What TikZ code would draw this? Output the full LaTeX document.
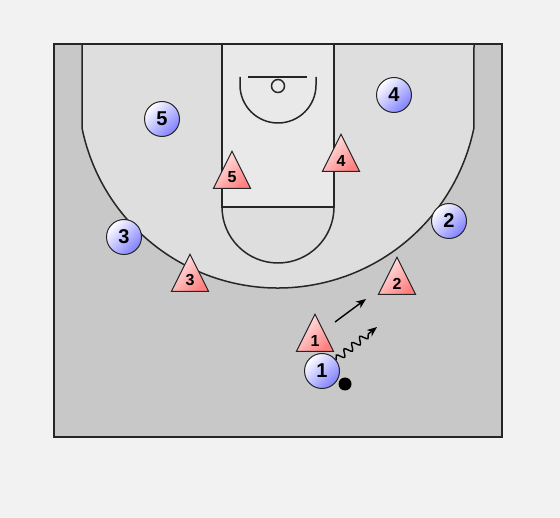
\documentclass[tikz,border=0pt]{standalone}
\usepackage{fontspec}
\setmainfont{Liberation Sans}
\usetikzlibrary{positioning, shapes.geometric, arrows.meta, decorations.pathmorphing}
\definecolor{floorgray}{RGB}{242,242,242}
\definecolor{courtgray}{RGB}{200,200,200}
\definecolor{arcgray}{RGB}{222,222,222}
\definecolor{lanegray}{RGB}{233,233,233}
\tikzset{
    offp/.style={circle, draw=black!85, line width=1pt, minimum size=35pt, inner sep=0pt, top color=white, bottom color=blue!50, shading angle=45, font=\fontsize{20}{20}\selectfont\bfseries},
    defp/.style={isosceles triangle, shape border rotate=90, isosceles triangle stretches=true, draw=black!85, line width=1pt, minimum width=37pt, minimum height=37pt, inner sep=0pt, top color=red!8, bottom color=red!50, shading angle=45, font=\fontsize{16}{16}\selectfont\bfseries, anchor=apex},
    bdot/.style={circle, fill=black, minimum size=13pt, inner sep=0pt},
    courtline/.style={draw=black!85, line width=1.5pt},
    cut/.style={-{Stealth[length=10pt, width=8pt, inset=3pt]}, line width=1.4pt},
    dribble/.style={-{Stealth[length=10pt, width=8pt, inset=3pt]}, line width=1.4pt, decorate, decoration={snake, amplitude=3.5pt, segment length=10pt, post length=9pt}},
}
\begin{document}
\begin{tikzpicture}[x=1pt, y=-1pt]
    \fill[floorgray] (0,0) rectangle (560,518);
    \useasboundingbox (0,0) rectangle (560,518);
    % half court
    \fill[courtgray] (54,44) rectangle (502,437);
    \draw[courtline, fill=arcgray] (82,44) -- (82,128) arc[start angle=168.46, end angle=11.54, radius=200] -- (474,44);
    \draw[courtline, fill=lanegray] (222,44) rectangle (334,207);
    \draw[courtline] (222,207) arc[start angle=180, end angle=0, radius=56];
    \draw[courtline] (240,77) -- (240,85) arc[start angle=180, end angle=0, radius=38] -- (316,77);
    \draw[courtline] (248,77) -- (307,77);
    \draw[courtline] (278,86) circle[radius=6.5];
    \draw[draw=black!85, line width=2pt] (54,44) rectangle (502,437);
    % moves
    \coordinate (c1a) at (335,322);
    \coordinate (c1b) at (366,299);
    \coordinate (d1) at (377,327);
    \draw[cut] (c1a) -- (c1b);
    % defense
    \node[defp] (t5) at (232,150) {5};
    \node[defp] (t4) at (341,133) {4};
    \node[defp] (t3) at (190,253) {3};
    \node[defp] (t2) at (397,256) {2};
    \node[defp] (t1) at (315,313) {1};
    % offense
    \node[offp] (o5) at (162,119) {5};
    \node[offp] (o4) at (394,95) {4};
    \node[offp] (o3) at (124,237) {3};
    \node[offp] (o2) at (449,221) {2};
    \node[offp] (o1) at (322,371) {1};
    \node[bdot] (bl) at (345,384) {};
    \draw[dribble] (o1) -- (d1);
\end{tikzpicture}
\end{document}
